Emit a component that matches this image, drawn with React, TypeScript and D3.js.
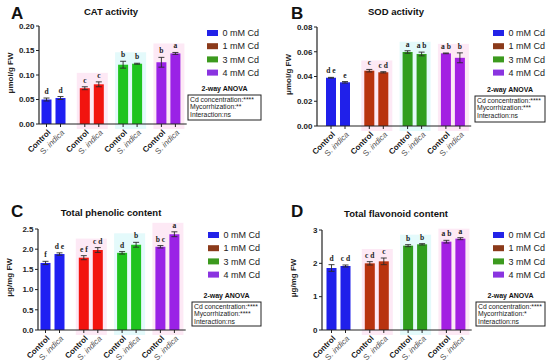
import * as d3 from "d3";

// data
const groups = ["0 mM Cd", "1 mM Cd", "3 mM Cd", "4 mM Cd"];
const treatments = ["Control", "S. indica"];

const catMean = [0.05, 0.053, 0.073, 0.081, 0.121, 0.123, 0.126, 0.144];
const catErr = [0.003, 0.003, 0.003, 0.005, 0.007, 0.001, 0.01, 0.002];
const catLetters = ["d", "d", "c", "c", "b", "b", "b", "a"];
const catTicks = [0, 0.05, 0.1, 0.15, 0.2];

const sodMean = [0.039, 0.0353, 0.0447, 0.0434, 0.0598, 0.0582, 0.0587, 0.0551];
const sodErr = [0.0003, 0.0006, 0.001, 0.0005, 0.001, 0.0015, 0.0003, 0.004];
const sodLetters = ["d e", "e", "c", "c d", "a", "a b", "a b", "b"];
const sodTicks = [0, 0.02, 0.04, 0.06, 0.08];

const phenMean = [1.66, 1.88, 1.79, 1.98, 1.91, 2.11, 2.06, 2.37];
const phenErr = [0.04, 0.03, 0.05, 0.06, 0.03, 0.06, 0.03, 0.06];
const phenLetters = ["f", "d e", "e f", "c d", "d", "b", "b c", "a"];
const phenTicks = [0, 0.5, 1, 1.5, 2, 2.5];

const flavMean = [1.86, 1.92, 2.0, 2.06, 2.53, 2.57, 2.65, 2.74];
const flavErr = [0.1, 0.03, 0.05, 0.1, 0.03, 0.02, 0.04, 0.03];
const flavLetters = ["d", "c d", "c d", "c", "b", "b", "a b", "a"];
const flavTicks = [0, 1, 2, 3];

const anovaMyco = ["**", "***", "****", "*"];

const SANS = "'Liberation Sans', Arial, sans-serif";
const SERIF = "'Liberation Serif', 'Times New Roman', serif";

const legendColors = ["#2222e8", "#8b3a1a", "#3c9a1e", "#8a34e0"];
const brightColors = ["#1f1ff2", "#f2140f", "#1fc41f", "#9a22e6"];
const darkColors = ["#2020ea", "#b8330f", "#2f9e1f", "#a320e2"];

type PanelCfg = {
  letter: string;
  title: string;
  yLabel: string;
  mean: number[];
  err: number[];
  letters: string[];
  ticks: number[];
  fmt: string;
  myco: string;
  colors: string[];
  ox: number;
  oy: number;
  axisX: number;
  left: number;
  yTop: number;
  yBot: number;
  titleX: number;
  titleY: number;
  letterX: number;
  letterY: number;
  swX: number;
  legY: number;
  box: [number, number, number, number];
};

function Panel({ c }: { c: PanelCfg }) {
  const step = 38.3;
  const x0 = d3.scaleBand<string>().domain(groups).range([c.left, c.left + step * 4]);
  const x1 = d3.scaleBand<string>().domain(treatments).range([7, 31]).paddingInner(2 / 7);
  const y = d3
    .scaleLinear()
    .domain([0, c.ticks[c.ticks.length - 1]])
    .range([c.yBot, c.yTop]);
  const f = d3.format(c.fmt);
  const bw = x1.bandwidth();
  const axisEnd = c.left + step * 4 - 1;
  const bars = groups.flatMap((g, gi) =>
    treatments.map((t, ti) => {
      const i = gi * 2 + ti;
      return { g, gi, t, ti, i, cx: (x0(g) as number) + (x1(t) as number) + bw / 2 };
    })
  );
  const bandFill = ["none", "#fde3f3", "#ddf9fa", "#fde3f3"];
  return (
    <g transform={`translate(${c.ox},${c.oy})`} fontFamily={SANS}>
      {groups.map((g, gi) => {
        if (gi === 0) return null;
        const top = Math.max(
          c.mean[gi * 2] + c.err[gi * 2],
          c.mean[gi * 2 + 1] + c.err[gi * 2 + 1]
        );
        return (
          <rect
            key={g}
            x={(x0(g) as number) + 4}
            y={y(top) - 9}
            width={31}
            height={c.yBot + 5 - (y(top) - 9)}
            fill={bandFill[gi]}
            opacity={0.8}
          />
        );
      })}
      <text x={c.letterX} y={c.letterY} fontSize={17} fontWeight="bold" fill="#111">
        {c.letter}
      </text>
      <text x={c.titleX} y={c.titleY} fontSize={9.5} fontWeight="bold" textAnchor="middle" fill="#111">
        {c.title}
      </text>
      {/* bars */}
      {bars.map((b) => (
        <rect
          key={b.i}
          x={b.cx - bw / 2}
          y={y(c.mean[b.i])}
          width={bw}
          height={c.yBot - y(c.mean[b.i])}
          fill={c.colors[b.gi]}
        />
      ))}
      {/* error bars */}
      {bars.map((b) => {
        const hi = y(c.mean[b.i] + c.err[b.i]);
        const lo = y(c.mean[b.i] - c.err[b.i]);
        return (
          <g key={"e" + b.i} stroke="#2a2a2a" strokeWidth={0.9}>
            <line x1={b.cx} x2={b.cx} y1={hi} y2={lo} />
            <line x1={b.cx - 3} x2={b.cx + 3} y1={hi} y2={hi} />
            <line x1={b.cx - 3} x2={b.cx + 3} y1={lo} y2={lo} />
          </g>
        );
      })}
      {bars.map((b) => (
        <text
          key={"l" + b.i}
          x={b.cx}
          y={y(c.mean[b.i] + c.err[b.i]) - 4}
          fontFamily={SERIF}
          fontSize={7.5}
          fontWeight="bold"
          textAnchor="middle"
          fill="#222"
        >
          {c.letters[b.i]}
        </text>
      ))}
      {/* y axis */}
      <line x1={c.axisX} x2={c.axisX} y1={c.yTop} y2={c.yBot} stroke="#222" strokeWidth={1.2} />
      {c.ticks.map((t) => (
        <g key={"t" + t}>
          <line x1={c.axisX - 3} x2={c.axisX} y1={y(t)} y2={y(t)} stroke="#222" strokeWidth={1} />
          <text
            x={c.axisX - 4.5}
            y={y(t)}
            dy="0.35em"
            fontSize={8}
            fontWeight="bold"
            textAnchor="end"
            fill="#222"
          >
            {f(t)}
          </text>
        </g>
      ))}
      <text
        transform={`translate(${c.axisX - 26},${(c.yTop + c.yBot) / 2 - 2}) rotate(-90)`}
        fontSize={8}
        fontWeight="bold"
        textAnchor="middle"
        fill="#222"
      >
        {c.yLabel}
      </text>
      {/* x axis */}
      <line x1={c.axisX} x2={axisEnd} y1={c.yBot} y2={c.yBot} stroke="#222" strokeWidth={1.2} />
      {bars.map((b) => (
        <g key={"x" + b.i}>
          <line x1={b.cx} x2={b.cx} y1={c.yBot} y2={c.yBot + 3} stroke="#222" strokeWidth={1} />
          <text
            transform={`translate(${b.cx + 2.5},${c.yBot + 7}) rotate(-45)`}
            dy="0.35em"
            fontSize={8}
            textAnchor="end"
            fontWeight={b.ti === 0 ? "bold" : "normal"}
            fill={b.ti === 0 ? "#111" : "#555"}
          >
            {b.ti === 0 ? (
              b.t
            ) : (
              <>
                <tspan>S. </tspan>
                <tspan fontStyle="italic">indica</tspan>
              </>
            )}
          </text>
        </g>
      ))}
      {/* legend */}
      {groups.map((g, gi) => (
        <g key={"lg" + g} transform={`translate(${c.swX},${c.legY + gi * 13.2})`}>
          <rect x={0} y={-3} width={11} height={6} fill={legendColors[gi]} />
          <text x={15.5} y={0} dy="0.35em" fontSize={9} fill="#222">
            {g}
          </text>
        </g>
      ))}
      <text
        x={c.box[0] + c.box[2] / 2}
        y={c.box[1] - 4}
        fontSize={7}
        fontWeight="bold"
        textAnchor="middle"
        fill="#111"
      >
        2-way ANOVA
      </text>
      <rect
        x={c.box[0]}
        y={c.box[1]}
        width={c.box[2]}
        height={c.box[3]}
        fill="none"
        stroke="#222"
        strokeWidth={1}
      />
      {["Cd concentration:****", `Mycorrhization:${c.myco}`, "Interaction:ns"].map((s, i) => (
        <text key={s} x={c.box[0] + 2} y={c.box[1] + 7 + i * 7.4} fontSize={6.8} fill="#222">
          {s}
        </text>
      ))}
    </g>
  );
}

const panels: PanelCfg[] = [
  {
    letter: "A",
    title: "CAT activity",
    yLabel: "μmol/g FW",
    mean: catMean,
    err: catErr,
    letters: catLetters,
    ticks: catTicks,
    fmt: ".2f",
    myco: anovaMyco[0],
    colors: brightColors,
    ox: 0,
    oy: 0,
    axisX: 39,
    left: 34.5,
    yTop: 26,
    yBot: 124,
    titleX: 111,
    titleY: 14.5,
    letterX: 11,
    letterY: 18.5,
    swX: 207,
    legY: 33,
    box: [188, 95, 73, 25],
  },
  {
    letter: "B",
    title: "SOD activity",
    yLabel: "μmol/g FW",
    mean: sodMean,
    err: sodErr,
    letters: sodLetters,
    ticks: sodTicks,
    fmt: ".2f",
    myco: anovaMyco[1],
    colors: darkColors,
    ox: 275,
    oy: 0,
    axisX: 42,
    left: 44,
    yTop: 27,
    yBot: 126,
    titleX: 121,
    titleY: 14.5,
    letterX: 16,
    letterY: 18.5,
    swX: 218,
    legY: 33,
    box: [200, 96, 70, 26],
  },
  {
    letter: "C",
    title: "Total phenolic content",
    yLabel: "μg/mg FW",
    mean: phenMean,
    err: phenErr,
    letters: phenLetters,
    ticks: phenTicks,
    fmt: ".1f",
    myco: anovaMyco[2],
    colors: brightColors,
    ox: 0,
    oy: 180,
    axisX: 38,
    left: 33.5,
    yTop: 49,
    yBot: 150,
    titleX: 111,
    titleY: 35.5,
    letterX: 11,
    letterY: 36.5,
    swX: 208,
    legY: 55,
    box: [192, 122, 69, 24],
  },
  {
    letter: "D",
    title: "Total flavonoid content",
    yLabel: "μg/mg FW",
    mean: flavMean,
    err: flavErr,
    letters: flavLetters,
    ticks: flavTicks,
    fmt: "d",
    myco: anovaMyco[3],
    colors: darkColors,
    ox: 275,
    oy: 180,
    axisX: 47,
    left: 44.5,
    yTop: 50,
    yBot: 150,
    titleX: 121,
    titleY: 36.5,
    letterX: 16,
    letterY: 36.5,
    swX: 218,
    legY: 55,
    box: [201, 122, 69, 24],
  },
];

export default function App() {
  return (
    <svg
      width={550}
      height={363}
      style={{ position: "absolute", left: 0, top: 0, background: "#fff" }}
    >
      <rect width={550} height={363} fill="#fff" />
      {panels.map((p) => (
        <Panel key={p.letter} c={p} />
      ))}
    </svg>
  );
}
